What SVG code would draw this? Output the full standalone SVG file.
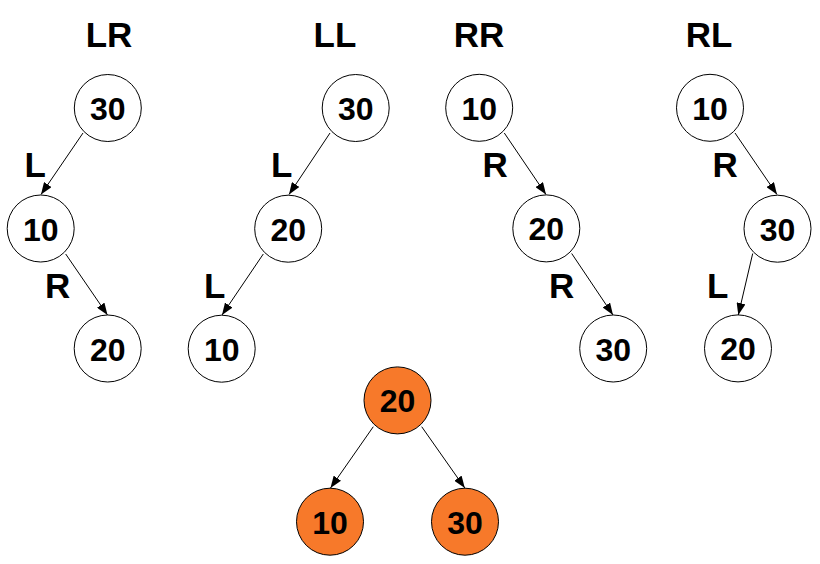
<svg xmlns="http://www.w3.org/2000/svg" width="820" height="564" viewBox="0 0 820 564">
<defs>
<style>
.n{fill:#fff;stroke:#000;stroke-width:1}
.o{fill:#F7792A;stroke:#000;stroke-width:1}
.t{font-family:"Liberation Sans",Arial,sans-serif;font-weight:bold;font-size:32px;fill:#000;text-anchor:middle}
.h{font-family:"Liberation Sans",Arial,sans-serif;font-weight:bold;font-size:35px;fill:#000}
.e{stroke:#000;stroke-width:1;fill:none;marker-end:url(#a)}
</style>
<marker id="a" markerUnits="userSpaceOnUse" markerWidth="13" markerHeight="9" refX="12" refY="4.5" orient="auto">
<path d="M0,0 L12,4.5 L0,9 z" fill="#000"/>
</marker>
</defs>
<rect width="820" height="564" fill="#fff"/>
<g id="titles">
<text class="h" x="109" y="47" text-anchor="middle">LR</text>
<text class="h" x="335" y="47" text-anchor="middle">LL</text>
<text class="h" x="479" y="47" text-anchor="middle">RR</text>
<text class="h" x="709" y="47" text-anchor="middle">RL</text>
</g>
<g id="connectors">
<line class="e" x1="83" y1="133" x2="41" y2="194.5"/>
<line class="e" x1="65.7" y1="254" x2="107.5" y2="315"/>
<line class="e" x1="330" y1="133" x2="289" y2="194.5"/>
<line class="e" x1="263.3" y1="254" x2="222" y2="315"/>
<line class="e" x1="504.3" y1="133" x2="546" y2="194.5"/>
<line class="e" x1="571.7" y1="253.5" x2="613" y2="315"/>
<line class="e" x1="735" y1="133" x2="777" y2="194.5"/>
<line class="e" x1="752.7" y1="253.5" x2="738.3" y2="315"/>
<line class="e" x1="373.3" y1="426.7" x2="330.5" y2="488"/>
<line class="e" x1="421.7" y1="426.7" x2="464.8" y2="488"/>
</g>
<g id="edge-labels">
<text class="h" x="24.5" y="177">L</text>
<text class="h" x="45" y="298">R</text>
<text class="h" x="271" y="177">L</text>
<text class="h" x="204" y="298">L</text>
<text class="h" x="482.5" y="177">R</text>
<text class="h" x="549" y="298">R</text>
<text class="h" x="712.5" y="177">R</text>
<text class="h" x="707" y="298">L</text>
</g>
<g id="lr-30"><circle class="n" cx="107.8" cy="108" r="33.5"/><text class="t" x="107.8" y="120">30</text></g>
<g id="lr-10"><circle class="n" cx="40.7" cy="228.5" r="33.5"/><text class="t" x="40.7" y="240.5">10</text></g>
<g id="lr-20"><circle class="n" cx="107.7" cy="348.5" r="33.5"/><text class="t" x="107.7" y="360.5">20</text></g>
<g id="ll-30"><circle class="n" cx="355.7" cy="108" r="33.5"/><text class="t" x="355.7" y="120">30</text></g>
<g id="ll-20"><circle class="n" cx="288.2" cy="228.7" r="33.5"/><text class="t" x="288.2" y="240.7">20</text></g>
<g id="ll-10"><circle class="n" cx="221.7" cy="348.7" r="33.5"/><text class="t" x="221.7" y="360.7">10</text></g>
<g id="rr-10"><circle class="n" cx="479.2" cy="107.8" r="33.5"/><text class="t" x="479.2" y="119.8">10</text></g>
<g id="rr-20"><circle class="n" cx="546.3" cy="228.4" r="33.5"/><text class="t" x="546.3" y="240.4">20</text></g>
<g id="rr-30"><circle class="n" cx="613.2" cy="348.5" r="33.5"/><text class="t" x="613.2" y="360.5">30</text></g>
<g id="rl-10"><circle class="n" cx="710" cy="107.8" r="33.5"/><text class="t" x="710" y="119.8">10</text></g>
<g id="rl-30"><circle class="n" cx="777.5" cy="228.7" r="33.5"/><text class="t" x="777.5" y="240.7">30</text></g>
<g id="rl-20"><circle class="n" cx="738" cy="348.4" r="33.5"/><text class="t" x="738" y="360.4">20</text></g>
<g id="res-20"><circle class="o" cx="397.5" cy="400.4" r="33.5"/><text class="t" x="397.5" y="412.4">20</text></g>
<g id="res-10"><circle class="o" cx="330" cy="521.7" r="33.5"/><text class="t" x="330" y="533.7">10</text></g>
<g id="res-30"><circle class="o" cx="465" cy="521.7" r="33.5"/><text class="t" x="465" y="533.7">30</text></g>
</svg>
